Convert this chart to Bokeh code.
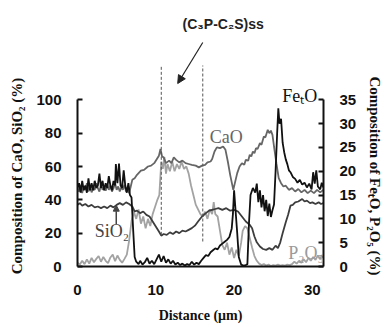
from bokeh.plotting import figure
from bokeh.models import Range1d, LinearAxis, FixedTicker, Label, Arrow, NormalHead
from bokeh.embed import file_html
from bokeh.resources import INLINE

# ---------------- data ----------------
# left axis series: Composition of CaO, SiO2 (%) vs Distance (um)
cao_pts = [(0, 47), (0.2, 45), (0.4, 49), (0.6, 44), (0.8, 48), (1.0, 46), (1.2, 50), (1.4, 45),
           (1.6, 48), (1.8, 44.5), (2.0, 47), (2.2, 46), (2.4, 50), (2.6, 47), (2.8, 45), (3.0, 49),
           (3.2, 46), (3.4, 48), (3.6, 45.5), (3.8, 49), (4.0, 46), (4.2, 48.5), (4.4, 45), (4.6, 47),
           (4.8, 50), (5.0, 46), (5.2, 48), (5.4, 45), (5.6, 47.5), (5.8, 46), (6.0, 49), (6.2, 45),
           (6.4, 47), (6.6, 44), (6.8, 48), (7.0, 52), (7.3, 53), (7.6, 55), (8.1, 57.5), (8.5, 58),
           (9.0, 60), (9.4, 60.5), (9.8, 62), (10.0, 63.5), (10.2, 65), (10.4, 66.5), (10.6, 70.5),
           (10.8, 66), (11.0, 65.5), (11.3, 62), (11.7, 63.5), (12.0, 62), (12.3, 65.5), (12.6, 64),
           (13.0, 62.5), (13.4, 63.5), (13.8, 62), (14.2, 61.5), (14.6, 61), (15.1, 60.5), (15.5, 59.5),
           (15.9, 60.5), (16.3, 61), (16.6, 62.5), (17.0, 63), (17.2, 64.5), (17.5, 69), (17.8, 71.5),
           (18.2, 71), (18.6, 72), (18.9, 70), (19.2, 63), (19.5, 55), (19.9, 46), (20.1, 50),
           (20.4, 56), (20.7, 60), (21.0, 62), (21.3, 61), (21.5, 64), (21.8, 63.5), (22.0, 67),
           (22.2, 66), (22.4, 69), (22.6, 68), (22.8, 71), (23.0, 70.5), (23.3, 74), (23.5, 73),
           (23.8, 78), (24.0, 77.5), (24.3, 82), (24.5, 80), (24.7, 81.5), (24.9, 79), (25.1, 72),
           (25.4, 62), (25.7, 53), (26.0, 50), (26.3, 48), (26.6, 48.5), (27.0, 46), (27.4, 47),
           (27.8, 45), (28.2, 46.5), (28.6, 44.5), (29.0, 46), (29.4, 44), (29.8, 45.5), (30.2, 44),
           (30.6, 46), (31.0, 44.5), (31.4, 46)]

sio2_pts = [(0, 37), (0.3, 38), (0.6, 36.5), (1.0, 37.5), (1.4, 36), (1.8, 37), (2.2, 35.5), (2.6, 36),
            (3.0, 35), (3.4, 36), (3.8, 35), (4.2, 36.5), (4.6, 35.5), (5.0, 37), (5.4, 38), (5.8, 37),
            (6.2, 38.5), (6.6, 37.5), (7.0, 36), (7.3, 33), (7.6, 33.5), (8.0, 32), (8.4, 33), (8.8, 31),
            (9.2, 30), (9.6, 27), (10.0, 24), (10.4, 21), (10.7, 18.5), (11.0, 19.5), (11.4, 19),
            (11.8, 20.5), (12.2, 19.5), (12.6, 21), (13.0, 20), (13.4, 21.5), (13.8, 21), (14.2, 22),
            (14.6, 23), (15.0, 24.5), (15.4, 27), (15.9, 30), (16.4, 32), (16.8, 33.5), (17.2, 34),
            (17.6, 34.5), (18.0, 35), (18.5, 34), (19.0, 35), (19.5, 33.5), (20.0, 34), (20.5, 33),
            (21.0, 30), (21.5, 27), (22.0, 25), (22.3, 23), (22.6, 18), (22.9, 14.5), (23.3, 12),
            (23.7, 10.5), (24.1, 10), (24.5, 11), (24.9, 10), (25.3, 12.5), (25.6, 11), (25.9, 14.5),
            (26.2, 20), (26.6, 26.5), (26.9, 31), (27.2, 36.5), (27.5, 37), (27.8, 38.5), (28.2, 39),
            (28.7, 40.5), (29.0, 39), (29.3, 39.5), (29.7, 38), (30.0, 38.5), (30.4, 37.5), (30.8, 38.5),
            (31.1, 37.5), (31.4, 38)]

# right axis series: Composition of FetO, P2O5 (%)
feto_pts = [(0, 16.5), (0.2, 17.5), (0.4, 15.5), (0.6, 18), (0.8, 16), (1.0, 17), (1.2, 15.5), (1.4, 18.5),
            (1.6, 16), (1.8, 17.5), (2.0, 16), (2.2, 18), (2.4, 16.5), (2.6, 17), (2.8, 19.5), (3.0, 16.5),
            (3.2, 18), (3.4, 16), (3.6, 17.5), (3.8, 16.5), (4.0, 19), (4.2, 17), (4.4, 16), (4.6, 18),
            (4.8, 17), (4.9, 21.5), (5.1, 17.5), (5.3, 21.6), (5.5, 17), (5.7, 16.5), (5.9, 20.2),
            (6.1, 17), (6.3, 15.5), (6.5, 17.5), (6.7, 15), (6.9, 14.5), (7.1, 8), (7.3, 2), (7.5, 1),
            (7.8, 0.5), (8.0, 1.2), (8.3, 0.4), (8.6, 0.9), (8.9, 1.8), (9.2, 0.6), (9.5, 1.2), (9.8, 0.5),
            (10.1, 1.5), (10.4, 2.5), (10.7, 1.0), (11.0, 2.2), (11.3, 0.8), (11.6, 1.5), (11.9, 0.6),
            (12.2, 1.2), (12.5, 0.4), (12.8, 0.8), (13.1, 0.3), (13.4, 0.6), (13.7, 0.2), (14.0, 0.5),
            (14.3, 0.3), (14.6, 1.0), (14.9, 0.4), (15.2, 0.8), (15.5, 0.5), (15.8, 1.2), (16.1, 1.8),
            (16.4, 2.4), (16.7, 2.2), (17.0, 3.0), (17.3, 3.4), (17.6, 3.8), (17.9, 3.6), (18.2, 4.4),
            (18.5, 4.8), (18.8, 5.2), (19.1, 5.6), (19.4, 6.2), (19.7, 8.0), (19.85, 11), (20.0, 16),
            (20.2, 11.5), (20.4, 7), (20.6, 2), (20.9, 0.4), (21.2, 0.2), (21.5, 0.3), (21.7, 0.5),
            (21.9, 9), (22.1, 15), (22.4, 16.5), (22.7, 15.5), (22.9, 17.4), (23.1, 13.5), (23.3, 16),
            (23.5, 12.4), (23.7, 15), (23.9, 11.6), (24.1, 14), (24.3, 10.6), (24.5, 13.2), (24.7, 10.4),
            (24.9, 11.8), (25.1, 13), (25.3, 20), (25.5, 28), (25.65, 33.2), (25.8, 30), (26.0, 31),
            (26.2, 26), (26.4, 24), (26.6, 22.5), (26.8, 21.5), (27.0, 20.2), (27.2, 19.8), (27.5, 18.8),
            (27.8, 18.4), (28.1, 17.6), (28.4, 18.2), (28.7, 17.2), (29.0, 17.6), (29.3, 16.6),
            (29.6, 17.4), (29.9, 16.2), (30.1, 19.8), (30.3, 17.4), (30.5, 20.2), (30.7, 16.8),
            (31.0, 16.2), (31.2, 17.6), (31.4, 16.6)]

p2o5_pts = [(0, 0.8), (0.3, 0.4), (0.6, 1.2), (0.9, 0.5), (1.2, 1.5), (1.5, 0.6), (1.8, 1.8), (2.1, 0.9),
            (2.4, 1.6), (2.7, 2.2), (3.0, 1.0), (3.3, 2.0), (3.6, 1.2), (3.9, 0.7), (4.2, 1.9), (4.5, 2.5),
            (4.8, 1.1), (5.1, 2.3), (5.4, 1.4), (5.7, 0.8), (6.0, 1.6), (6.3, 2.5), (6.6, 5.5), (6.9, 9.5),
            (7.2, 11.5), (7.5, 10.0), (7.8, 12.0), (8.1, 9.0), (8.4, 10.5), (8.7, 8.0), (9.0, 10.0),
            (9.3, 8.5), (9.6, 11.0), (9.9, 12.5), (10.2, 14.0), (10.45, 15.0), (10.7, 22.0), (10.9, 20.5),
            (11.1, 23.0), (11.3, 19.5), (11.5, 21.5), (11.8, 20.0), (12.1, 22.0), (12.4, 20.0),
            (12.7, 21.5), (13.0, 20.5), (13.3, 22.0), (13.6, 20.5), (13.9, 21.0), (14.2, 19.5),
            (14.5, 17.0), (14.8, 15.0), (15.1, 13.0), (15.4, 12.0), (15.7, 11.0), (16.0, 10.5),
            (16.3, 11.5), (16.6, 10.0), (16.9, 12.0), (17.2, 11.0), (17.4, 13.5), (17.6, 11.0),
            (17.9, 10.5), (18.2, 7.5), (18.5, 4.5), (18.8, 3.5), (19.1, 5.0), (19.4, 2.5), (19.7, 4.0),
            (20.0, 1.8), (20.3, 3.5), (20.6, 2.2), (20.9, 5.0), (21.1, 7.5), (21.4, 8.5), (21.7, 8.0),
            (22.0, 6.0), (22.3, 4.0), (22.6, 2.2), (22.9, 1.2), (23.2, 0.6), (23.5, 0.3), (23.8, 0.5),
            (24.1, 0.2), (24.4, 0.4), (24.7, 0.1), (25.0, 0.3), (25.3, 0.2), (25.6, 0.4), (25.9, 0.2),
            (26.2, 0.3), (26.5, 0.2), (26.8, 0.4), (27.1, 0.3), (27.4, 0.5), (27.7, 1.0), (28.0, 0.6),
            (28.3, 1.2), (28.6, 0.8), (28.9, 1.5), (29.2, 0.9), (29.5, 1.8), (29.8, 1.2), (30.1, 2.0),
            (30.4, 1.4), (30.7, 2.3), (31.0, 1.5), (31.2, 2.4), (31.4, 1.8)]

x_ticks = [0, 10, 20, 30]
left_ticks = [0, 20, 40, 60, 80, 100]
right_ticks = [0, 5, 10, 15, 20, 25, 30, 35]
phase_bounds = [10.7, 16.0]     # dashed lines bounding the (C3P-C2S)ss region

# ---------------- figure ----------------
X_MAX, Y_MAX, R_MAX = 31.42, 153.6, 53.76
p = figure(width=389, height=327, x_range=Range1d(0, X_MAX), y_range=Range1d(0, Y_MAX),
           output_backend="svg", toolbar_location=None,
           min_border_left=77, min_border_right=66, min_border_top=10, min_border_bottom=61)
p.extra_y_ranges = {"right": Range1d(0, R_MAX)}
p.outline_line_color = None
p.xgrid.visible = False
p.ygrid.visible = False
p.background_fill_color = "white"

raxis = LinearAxis(y_range_name="right")
p.add_layout(raxis, "right")

xa = p.xaxis[0]
ya = p.yaxis[0]
xa.ticker = FixedTicker(ticks=x_ticks)
ya.ticker = FixedTicker(ticks=left_ticks)
raxis.ticker = FixedTicker(ticks=right_ticks)
xa.bounds = (0, X_MAX)
ya.bounds = (0, 100)
raxis.bounds = (0, 35)
for ax in (xa, ya, raxis):
    ax.major_label_text_font = "Liberation Sans"
    ax.major_label_text_font_style = "bold"
    ax.major_label_text_font_size = "15px"
    ax.major_label_text_color = "#111111"
    ax.axis_line_width = 2
    ax.axis_line_color = "#111111"
    ax.major_tick_line_width = 2
    ax.major_tick_line_color = "#111111"
    ax.minor_tick_line_color = None
    ax.major_tick_in = 5
    ax.major_tick_out = 0
    ax.major_label_standoff = 16
    ax.axis_label_text_font = "Liberation Serif"
    ax.axis_label_text_font_style = "bold"
    ax.axis_label_text_font_size = "15px"
    ax.axis_label_text_color = "#111111"
xa.major_tick_in = 0
xa.major_label_standoff = 18
xa.axis_label_text_font_size = "14px"

# the vertical titles sit lower than the frame centre: pad them on their upper side with em spaces
PAD = "\u2003" * 5
ya.axis_label = "Composition of CaO, SiO₂ (%)" + PAD          # reads upwards: pad at the end
ya.axis_label_standoff = 8
raxis.axis_label = PAD + "Composition of FeₜO, P₂O₅ (%)"       # reads downwards: pad at the start
raxis.axis_label_standoff = 8
xa.axis_label = "Distance (μm)"
xa.axis_label_standoff = 10

# ---------------- series ----------------
def xs(pts):
    return [a for a, _ in pts]

def ys(pts):
    return [b for _, b in pts]

LW = 1.8
p.line(xs(p2o5_pts), ys(p2o5_pts), y_range_name="right", line_color="#a3a3a3", line_width=LW)
p.line(xs(cao_pts), ys(cao_pts), line_color="#666666", line_width=LW)
p.line(xs(sio2_pts), ys(sio2_pts), line_color="#3d3d3d", line_width=LW)
p.line(xs(feto_pts), ys(feto_pts), y_range_name="right", line_color="#111111", line_width=LW)

# dashed region markers
p.segment(x0=phase_bounds, y0=[19, 15], x1=phase_bounds, y1=[120.6, 120.6],
          line_color="#555555", line_width=1, line_dash="3 2")

# ---------------- annotations ----------------
p.add_layout(Label(x=18.6, y=145.5, text="(C₃P-C₂S)ss", text_font="Liberation Sans",
                   text_font_style="bold", text_font_size="14px", text_color="#222222",
                   text_align="center", text_baseline="middle"))
p.add_layout(Arrow(end=NormalHead(size=8, fill_color="#222222", line_color="#222222"),
                   x_start=16.0, y_start=134.4, x_end=12.8, y_end=109.8,
                   line_color="#222222", line_width=1.2))

p.add_layout(Label(x=19.0, y=77.5, text="CaO", text_font="Liberation Serif", text_font_size="18px",
                   text_color="#666666", text_align="center", text_baseline="middle"))
p.add_layout(Label(x=4.4, y=21.3, text="SiO₂", text_font="Liberation Serif", text_font_size="18px",
                   text_color="#444444", text_align="center", text_baseline="middle"))
p.add_layout(Arrow(end=NormalHead(size=6, fill_color="#444444", line_color="#444444"),
                   x_start=4.95, y_start=25.5, x_end=4.95, y_end=36.8,
                   line_color="#444444", line_width=1.5))
p.add_layout(Label(x=28.4, y=102.6, text="FeₜO", text_font="Liberation Serif", text_font_size="18px",
                   text_color="#111111", text_align="center", text_baseline="middle"))
p.add_layout(Label(x=29.2, y=8.2, text="P₂O₅", text_font="Liberation Serif", text_font_size="18px",
                   text_color="#9a9a9a", text_align="center", text_baseline="middle"))

open("out.html", "w").write(file_html(p, INLINE))
